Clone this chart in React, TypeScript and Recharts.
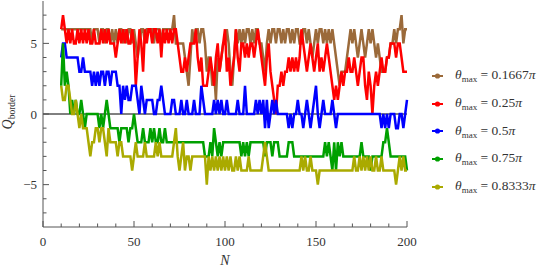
import * as React from 'react';
import {
  LineChart,
  Line,
  XAxis,
  YAxis,
  ReferenceLine,
  Legend,
} from 'recharts';

// Q_border for N = 10 .. 200, one array per theta_max
const START_N = 10;

const q01667 = [
  6, 6, 6, 6, 6, 6, 6, 6, 6, 6,
  6, 6, 6, 6, 6, 6, 6, 5, 6, 6,
  6, 5, 6, 6, 5, 6, 6, 5, 6, 5,
  6, 5, 6, 6, 5, 6, 5, 6, 6, 5,
  6, 5, 4, 5, 6, 6, 5, 6, 6, 6,
  6, 5, 6, 6, 6, 5, 6, 6, 6, 6,
  6, 6, 7, 5, 5, 5, 5, 5, 4, 3,
  2, 4, 6, 5, 6, 6, 5, 6, 6, 5,
  3, 4, 4, 2, 3, 1, 4, 3, 4, 5,
  5, 6, 5, 3, 2, 4, 6, 5, 6, 5,
  6, 5, 6, 6, 5, 6, 5, 6, 6, 5,
  5, 4, 3, 5, 6, 5, 6, 6, 5, 6,
  6, 5, 6, 5, 6, 6, 5, 6, 5, 6,
  6, 5, 5, 6, 6, 5, 6, 5, 4, 5,
  6, 5, 6, 6, 5, 6, 5, 6, 5, 6,
  5, 4, 3, 2, 3, 3, 3, 4, 5, 6,
  5, 6, 5, 4, 5, 6, 5, 4, 5, 6,
  5, 6, 5, 4, 5, 4, 3, 3, 3, 4,
  4, 5, 5, 6, 5, 6, 6, 7, 5, 6, 6,
];

const q025 = [
  6, 7, 6, 5, 6, 5, 6, 5, 5, 6,
  5, 6, 5, 6, 5, 6, 5, 5, 6, 5,
  5, 5, 6, 5, 6, 5, 6, 5, 5, 5,
  4, 5, 6, 5, 6, 5, 6, 5, 5, 6,
  5, 2, 4, 6, 5, 3, 6, 5, 6, 6,
  5, 6, 6, 5, 6, 4, 6, 5, 6, 5,
  6, 5, 6, 6, 5, 4, 3, 3, 4, 3,
  4, 5, 5, 5, 6, 4, 3, 4, 2, 2,
  2, 3, 4, 3, 2, 4, 5, 3, 4, 5,
  6, 3, 4, 2, 3, 4, 6, 4, 3, 5,
  5, 4, 5, 4, 5, 5, 4, 5, 6, 5,
  4, 3, 2, 4, 5, 3, 2, 1, 0, 2,
  2, 3, 2, 3, 3, 4, 3, 4, 3, 4,
  3, 4, 6, 5, 4, 3, 4, 5, 4, 3,
  4, 5, 3, 4, 3, 4, 5, 4, 3, 2,
  1, 2, 1, 2, 3, 2, 3, 3, 4, 3,
  3, 4, 3, 2, 3, 4, 4, 2, 1, 3,
  2, 0, 2, 3, 2, 3, 4, 3, 3, 4,
  4, 5, 5, 5, 4, 5, 5, 4, 3, 3, 3,
];

const q05 = [
  4, 5, 5, 4, 4, 4, 4, 4, 4, 4,
  3, 3, 4, 3, 3, 3, 3, 2, 3, 2,
  3, 2, 3, 3, 2, 3, 3, 2, 3, 3,
  3, 2, 2, 0, 2, 1, 2, 1, 1, 2,
  2, 2, 1, 0, 2, 1, 0, 1, 1, 1,
  1, 0, 0, 1, 1, 2, 1, 0, 0, 0,
  0, 1, 1, 0, 0, 0, 1, 0, 0, 1,
  0, 0, 0, 1, 0, 0, 0, 2, 1, 0,
  0, 0, 0, 0, 1, 0, 1, 0, 1, 0,
  0, 1, 0, 0, 0, 0, 0, 1, 0, 0,
  0, 2, 0, 0, 0, 0, 0, 1, 0, 1,
  0, 1, -1, 1, -1, 0, 1, 0, 1, 0,
  0, 0, 0, 0, 0, -1, 0, -1, 0, 0,
  1, 0, 0, -1, 0, 1, 0, -1, 0, 1,
  2, 0, -1, 0, 1, 0, 0, 0, 0, 1,
  0, -1, 0, 0, 0, 0, 0, 0, 0, 0,
  0, 0, 0, 0, 0, 0, 0, 0, 0, 0,
  0, 0, 0, 0, 0, 0, -1, 0, -1, 0,
  -1, 0, 0, 0, -1, -1, 0, 0, -1, 0, 1,
];

const q075 = [
  2, 5, 2, 3, 2, 0, 1, 0, 1, 0,
  0, 1, 0, -1, 0, 0, 0, 0, 0, 0,
  0, -1, 0, -1, 0, 1, 0, -1, -1, -1,
  -1, -1, -2, -1, -1, -1, -1, -2, -1, -1,
  0, -1, -2, -2, -2, -1, -2, -2, -2, -1,
  -2, -1, -2, -2, -1, -2, -2, -1, -2, -2,
  -2, -2, -2, -2, -2, -2, -2, -2, -2, -2,
  -2, -2, -2, -2, -2, -2, -2, -2, -2, -3,
  -3, -3, -2, -3, -1, -2, -3, -2, -3, -2,
  -2, -2, -2, -2, -2, -2, -2, -2, -2, -3,
  -2, -3, -2, -3, -2, -2, -2, -2, -2, -2,
  -2, -2, -3, -2, -2, -2, -3, -2, -2, -2,
  -3, -3, -3, -3, -3, -2, -2, -2, -3, -3,
  -3, -3, -3, -3, -3, -3, -3, -3, -3, -3,
  -3, -3, -3, -3, -3, -2, -3, -2, -3, -4,
  -2, -4, -2, -3, -2, -3, -3, -3, -3, -3,
  -3, -3, -3, -3, -3, -2, -3, -3, -3, -3,
  -4, -3, -3, -3, -3, -3, -3, -2, -2, -1,
  -2, -3, -3, -3, -3, -3, -3, -3, -3, -3, -4,
];

const q08333 = [
  2, 1, 1, 2, 2, 1, 0, 0, 1, 0,
  -1, 0, -1, -1, -1, -2, -3, -2, -2, -1,
  -1, -2, -1, -1, -2, -3, -1, -2, -2, -2,
  -2, -3, -2, -2, -3, -3, -3, -3, -3, -4,
  -3, -2, -3, -3, -3, -3, -2, -3, -3, -3,
  -3, -3, -2, -3, -2, -3, -3, -3, -3, -3,
  -3, -3, -2, -1, -3, -4, -3, -2, -4, -3,
  -3, -4, -3, -3, -3, -3, -3, -3, -3, -3,
  -5, -3, -4, -3, -4, -3, -4, -3, -4, -3,
  -4, -3, -4, -3, -4, -4, -3, -4, -3, -4,
  -4, -4, -4, -3, -4, -4, -4, -4, -4, -4,
  -4, -3, -2, -3, -4, -4, -4, -4, -4, -4,
  -4, -4, -4, -4, -4, -4, -4, -4, -4, -4,
  -4, -4, -3, -4, -3, -4, -4, -3, -4, -4,
  -4, -5, -4, -4, -4, -4, -4, -4, -4, -4,
  -4, -4, -4, -4, -4, -4, -4, -4, -4, -4,
  -4, -3, -4, -4, -3, -4, -3, -4, -3, -4,
  -3, -4, -4, -3, -4, -4, -3, -4, -4, -4,
  -4, -4, -4, -4, -5, -4, -3, -4, -3, -4, -4,
];

const seriesKeys = ['a', 'b', 'c', 'd', 'e'];
const seriesLabels = ['0.1667', '0.25', '0.5', '0.75', '0.8333'];
const seriesColors = ['#9b6a3a', '#ff0000', '#0000ff', '#00a000', '#aaaa00'];
const seriesValues = [q01667, q025, q05, q075, q08333];

const xTicks = [0, 10, 20, 30, 40, 50, 60, 70, 80, 90, 100, 110, 120, 130, 140, 150, 160, 170, 180, 190, 200];
const yTicks = [-7, -6, -5, -4, -3, -2, -1, 0, 1, 2, 3, 4, 5, 6, 7];

const rows = q01667.map((_, i) => {
  const row: Record<string, number> = { N: START_N + i };
  seriesKeys.forEach((k, j) => {
    row[k] = seriesValues[j][i];
  });
  return row;
});

const FRAME = '#555';
const FONT = 'Liberation Serif, serif';

const fmt = (v: number) => (v < 0 ? '\u2212' + Math.abs(v) : String(v));

const BottomTick = (props: any) => {
  const { x, y, payload } = props;
  const major = payload.value % 50 === 0;
  return (
    <g>
      <line x1={x} x2={x} y1={y} y2={y - (major ? 6 : 3.5)} stroke={FRAME} />
      {major && (
        <text x={x} y={y + 19} textAnchor="middle" fontSize={13} fontFamily={FONT} fill="#333">
          {payload.value}
        </text>
      )}
    </g>
  );
};

const TopTick = (props: any) => {
  const { x, y, payload } = props;
  const major = payload.value % 50 === 0;
  return <line x1={x} x2={x} y1={y} y2={y + (major ? 6 : 3.5)} stroke={FRAME} />;
};

const LeftTick = (props: any) => {
  const { x, y, payload } = props;
  const major = payload.value % 5 === 0;
  return (
    <g>
      <line x1={x} x2={x + (major ? 6 : 3.5)} y1={y} y2={y} stroke={FRAME} />
      {major && (
        <text x={x - 6} y={y + 4.5} textAnchor="end" fontSize={13} fontFamily={FONT} fill="#333">
          {fmt(payload.value)}
        </text>
      )}
    </g>
  );
};

const RightTick = (props: any) => {
  const { x, y, payload } = props;
  const major = payload.value % 5 === 0;
  return <line x1={x} x2={x - (major ? 6 : 3.5)} y1={y} y2={y} stroke={FRAME} />;
};

const YLabel = (props: any) => {
  const { viewBox } = props;
  const cy = viewBox.y + viewBox.height / 2 - 2;
  const cx = 12;
  return (
    <text
      x={cx}
      y={cy}
      transform={`rotate(-90, ${cx}, ${cy})`}
      textAnchor="middle"
      fontFamily={FONT}
      fill="#333"
    >
      <tspan fontStyle="italic" fontSize={14}>Q</tspan>
      <tspan fontSize={9.5} dy={3}>border</tspan>
    </text>
  );
};

const XLabel = (props: any) => {
  const { viewBox } = props;
  return (
    <text
      x={viewBox.x + viewBox.width / 2}
      y={viewBox.y + 38}
      textAnchor="middle"
      fontFamily={FONT}
      fontStyle="italic"
      fontSize={14}
      fill="#333"
    >
      N
    </text>
  );
};

const renderLegend = (props: any) => {
  const { payload } = props;
  return (
    <div style={{ fontFamily: FONT, color: '#333' }}>
      {payload.map((entry: any) => (
        <div
          key={entry.value}
          style={{ height: 27.7, display: 'flex', alignItems: 'center', whiteSpace: 'nowrap' }}
        >
          <svg width={22} height={10} style={{ marginRight: 3 }}>
            <line x1={2} x2={13} y1={5} y2={5} stroke={entry.color} strokeWidth={2} />
            <circle cx={7.5} cy={5} r={2.6} fill={entry.color} />
          </svg>
          <span style={{ fontSize: 13.5, lineHeight: '14px' }}>
            <i>θ</i>
            <span style={{ fontSize: 9, position: 'relative', top: 3 }}>max</span>
            {' = '}
            {entry.value}
            <i>π</i>
          </span>
        </div>
      ))}
    </div>
  );
};

const App = () => (
  <div style={{ width: 545, height: 273, position: 'relative' }}>
    <style>{'body{margin:0}'}</style>
    <LineChart
      width={545}
      height={273}
      data={rows}
      margin={{ top: 1, right: 138, bottom: 0, left: 0 }}
    >
      <XAxis
        dataKey="N"
        type="number"
        domain={[0, 200]}
        ticks={xTicks}
        interval={0}
        height={46}
        tickSize={0}
        tickMargin={0}
        tickLine={false}
        tick={<BottomTick />}
        axisLine={{ stroke: FRAME }}
        label={<XLabel />}
      />
      <XAxis
        xAxisId="top"
        orientation="top"
        dataKey="N"
        type="number"
        domain={[0, 200]}
        ticks={xTicks}
        interval={0}
        height={0}
        tickSize={0}
        tickMargin={0}
        tickLine={false}
        tick={<TopTick />}
        axisLine={{ stroke: FRAME }}
      />
      <YAxis
        type="number"
        domain={[-8, 8]}
        ticks={yTicks}
        interval={0}
        width={43}
        tickSize={0}
        tickMargin={0}
        tickLine={false}
        tick={<LeftTick />}
        axisLine={{ stroke: FRAME }}
        label={<YLabel />}
      />
      <YAxis
        yAxisId="right"
        orientation="right"
        type="number"
        domain={[-8, 8]}
        ticks={yTicks}
        interval={0}
        width={0}
        tickSize={0}
        tickMargin={0}
        tickLine={false}
        tick={<RightTick />}
        axisLine={{ stroke: FRAME }}
      />
      <ReferenceLine y={0} stroke="#000" strokeWidth={1} />
      {seriesKeys.map((k, j) => (
        <Line
          key={k}
          dataKey={k}
          name={seriesLabels[j]}
          type="linear"
          stroke={seriesColors[j]}
          strokeWidth={2.5}
          dot={false}
          isAnimationActive={false}
        />
      ))}
      <Legend
        layout="vertical"
        align="center"
        verticalAlign="middle"
        content={renderLegend}
        wrapperStyle={{ position: 'absolute', left: 430, top: 62, width: 115 }}
      />
    </LineChart>
  </div>
);

export default App;
